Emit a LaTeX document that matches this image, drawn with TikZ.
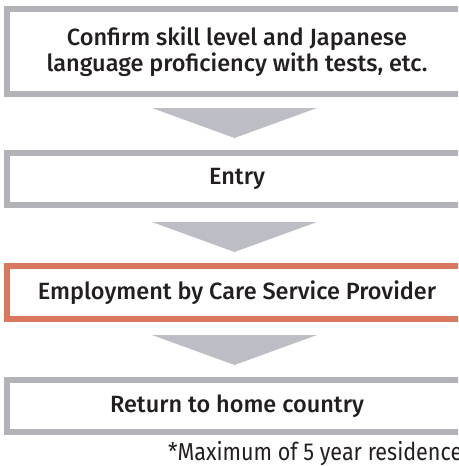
\documentclass[tikz,border=0pt]{standalone}
\usepackage{fontspec}
\setmainfont{Fira Sans}[UprightFont={* Medium}]
\newfontfamily\notefont{Fira Sans}[FakeStretch=0.88]
\usepackage{tikz}

\definecolor{boxgray}{HTML}{B2B3B8}
\definecolor{arrowgray}{HTML}{BDBEC5}
\definecolor{careorange}{HTML}{D9775F}
\definecolor{textdark}{HTML}{231F20}

\begin{document}
\begin{tikzpicture}[x = 1pt, y = -1pt,
                    stepbox/.style = {rectangle, draw = boxgray, line width = 6pt, fill = white,
                                      minimum width = 460pt, inner sep = 0pt, outer sep = 0pt,
                                      text = textdark, font = \fontsize{23.5}{25.6}\selectfont, align = center},
                    carebox/.style = {stepbox, draw = careorange},
                    downarrow/.style = {fill = arrowgray}]
  \useasboundingbox (0,0) rectangle (458,466);
  \clip (0,0) rectangle (458,466);
  \node [stepbox, minimum height = 85pt] (B1) at (237,51.5)
        {Confirm skill level and Japanese\\language proficiency with tests, etc.};
  \node [stepbox, minimum height = 52pt] (B2) at (237,179) {Entry};
  \node [carebox, minimum height = 53pt] (B3) at (237,292.5) {Employment by Care Service Provider};
  \node [stepbox, minimum height = 52pt] (B4) at (237,406) {Return to home country};
  \node [anchor = base west, text = textdark, inner sep = 0pt,
         font = \notefont\fontsize{24.5}{26}\selectfont] (N1) at (168,460) {*Maximum of 5 year residence};

  \fill [downarrow] (152,108) -- (317,108) -- (234.5,138) -- cycle;
  \fill [downarrow] (152,222) -- (317,222) -- (234.5,252) -- cycle;
  \fill [downarrow] (152,335) -- (317,335) -- (234.5,365) -- cycle;
\end{tikzpicture}
\end{document}
